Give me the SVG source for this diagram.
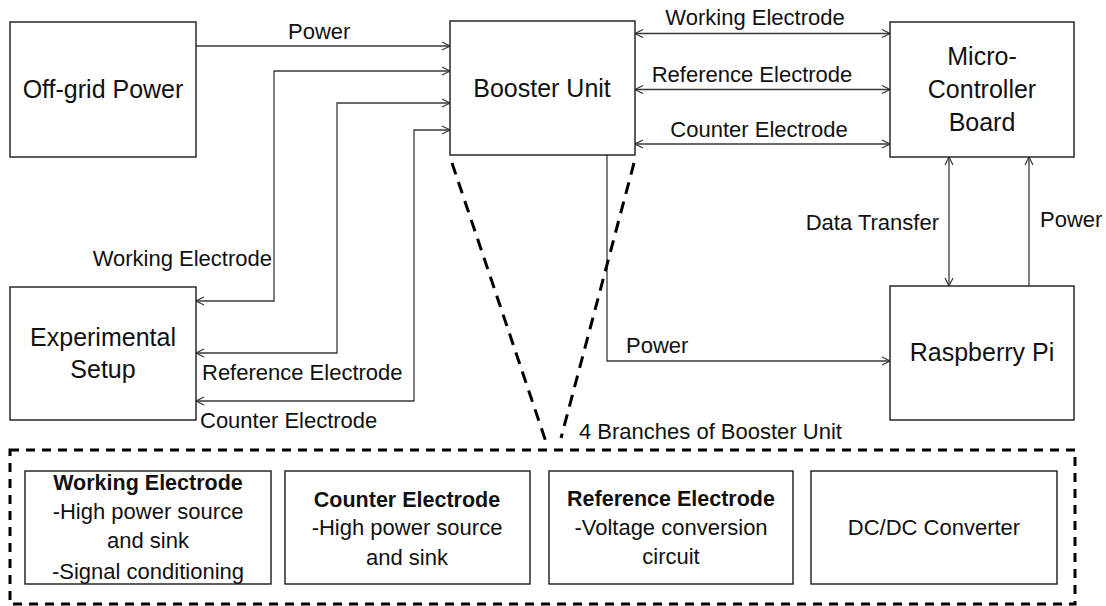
<svg xmlns="http://www.w3.org/2000/svg" width="1106" height="606" viewBox="0 0 1106 606">
  <style>
    .box { fill: #ffffff; stroke: #1a1a1a; stroke-width: 1.4; }
    .lbl { font-family: "Liberation Sans", Arial, sans-serif; font-size: 25px; fill: #111111; text-anchor: middle; }
    .t { font-family: "Liberation Sans", Arial, sans-serif; font-size: 22px; fill: #111111; }
    .mid { text-anchor: middle; }
    .end { text-anchor: end; }
    .bold { font-weight: bold; font-size: 21.5px; }
    .wire { fill: none; stroke: #3a3a3a; stroke-width: 1.3; }
    .dash { fill: none; stroke: #000000; stroke-width: 3; stroke-dasharray: 9 7; }
    .zoomline { fill: none; stroke: #000000; stroke-width: 3; stroke-dasharray: 12 8; }
  </style>
  <defs>
    <marker id="arr" viewBox="0 0 10 10" refX="9.5" refY="5" markerWidth="10" markerHeight="10" markerUnits="userSpaceOnUse" orient="auto-start-reverse">
      <path d="M1.5,1 L9.5,5 L1.5,9" fill="none" stroke="#3a3a3a" stroke-width="1.2"/>
    </marker>
  </defs>
  <rect width="1106" height="606" fill="#ffffff"/>

  <!-- connectors -->
  <g id="connectors">
    <path class="wire" d="M196,46 H450" marker-end="url(#arr)"/>
    <path class="wire" d="M450,71 H274 V301 H196" marker-start="url(#arr)" marker-end="url(#arr)"/>
    <path class="wire" d="M450,103 H337 V353 H196" marker-start="url(#arr)" marker-end="url(#arr)"/>
    <path class="wire" d="M450,130 H414 V401 H196" marker-start="url(#arr)" marker-end="url(#arr)"/>
    <path class="wire" d="M635,33.5 H890" marker-start="url(#arr)" marker-end="url(#arr)"/>
    <path class="wire" d="M635,89.5 H890" marker-start="url(#arr)" marker-end="url(#arr)"/>
    <path class="wire" d="M635,144 H890" marker-start="url(#arr)" marker-end="url(#arr)"/>
    <path class="wire" d="M949,157 V286" marker-start="url(#arr)" marker-end="url(#arr)"/>
    <path class="wire" d="M1029,286 V157" marker-end="url(#arr)"/>
    <path class="wire" d="M607,155 V361 H890" marker-end="url(#arr)"/>

    <text class="t" x="288" y="39">Power</text>
    <text class="t end" x="272" y="266">Working Electrode</text>
    <text class="t" x="202" y="380">Reference Electrode</text>
    <text class="t" x="200" y="428">Counter Electrode</text>
    <text class="t mid" x="755" y="25">Working Electrode</text>
    <text class="t mid" x="752" y="82">Reference Electrode</text>
    <text class="t mid" x="759" y="137">Counter Electrode</text>
    <text class="t end" x="939" y="230">Data Transfer</text>
    <text class="t" x="1040" y="227">Power</text>
    <text class="t" x="626" y="353">Power</text>
  </g>

  <!-- main blocks -->
  <g id="off-grid-power">
    <rect class="box" x="10" y="22" width="186" height="135"/>
    <text class="lbl" x="103" y="98">Off-grid Power</text>
  </g>
  <g id="booster-unit">
    <rect class="box" x="450" y="21" width="185" height="134"/>
    <text class="lbl" x="542" y="97">Booster Unit</text>
  </g>
  <g id="micro-controller-board">
    <rect class="box" x="890" y="22" width="184" height="135"/>
    <text class="lbl" x="982" y="65">Micro-</text>
    <text class="lbl" x="982" y="98">Controller</text>
    <text class="lbl" x="982" y="131">Board</text>
  </g>
  <g id="experimental-setup">
    <rect class="box" x="10" y="287" width="186" height="133"/>
    <text class="lbl" x="103" y="346">Experimental</text>
    <text class="lbl" x="103" y="378">Setup</text>
  </g>
  <g id="raspberry-pi">
    <rect class="box" x="890" y="286" width="184" height="134"/>
    <text class="lbl" x="982" y="361">Raspberry Pi</text>
  </g>

  <!-- expansion of the booster unit -->
  <g id="booster-detail">
    <path class="zoomline" d="M452,163 L546,442"/>
    <path class="zoomline" d="M634,163 L561,438"/>
    <rect class="dash" x="10" y="450" width="1065" height="154"/>
    <text class="t" x="579" y="439">4 Branches of Booster Unit</text>
  </g>

  <g id="branch-working-electrode">
    <rect class="box" x="25" y="471" width="246" height="113"/>
    <text class="t mid bold" x="148" y="490">Working Electrode</text>
    <text class="t mid" x="148" y="519">-High power source</text>
    <text class="t mid" x="148" y="548">and sink</text>
    <text class="t mid" x="148" y="579">-Signal conditioning</text>
  </g>
  <g id="branch-counter-electrode">
    <rect class="box" x="285" y="471" width="245" height="113"/>
    <text class="t mid bold" x="407" y="507">Counter Electrode</text>
    <text class="t mid" x="407" y="535">-High power source</text>
    <text class="t mid" x="407" y="565">and sink</text>
  </g>
  <g id="branch-reference-electrode">
    <rect class="box" x="549" y="471" width="244" height="113"/>
    <text class="t mid bold" x="671" y="506">Reference Electrode</text>
    <text class="t mid" x="671" y="535">-Voltage conversion</text>
    <text class="t mid" x="671" y="564">circuit</text>
  </g>
  <g id="branch-dcdc-converter">
    <rect class="box" x="811" y="471" width="246" height="113"/>
    <text class="t mid" x="934" y="535">DC/DC Converter</text>
  </g>
</svg>
